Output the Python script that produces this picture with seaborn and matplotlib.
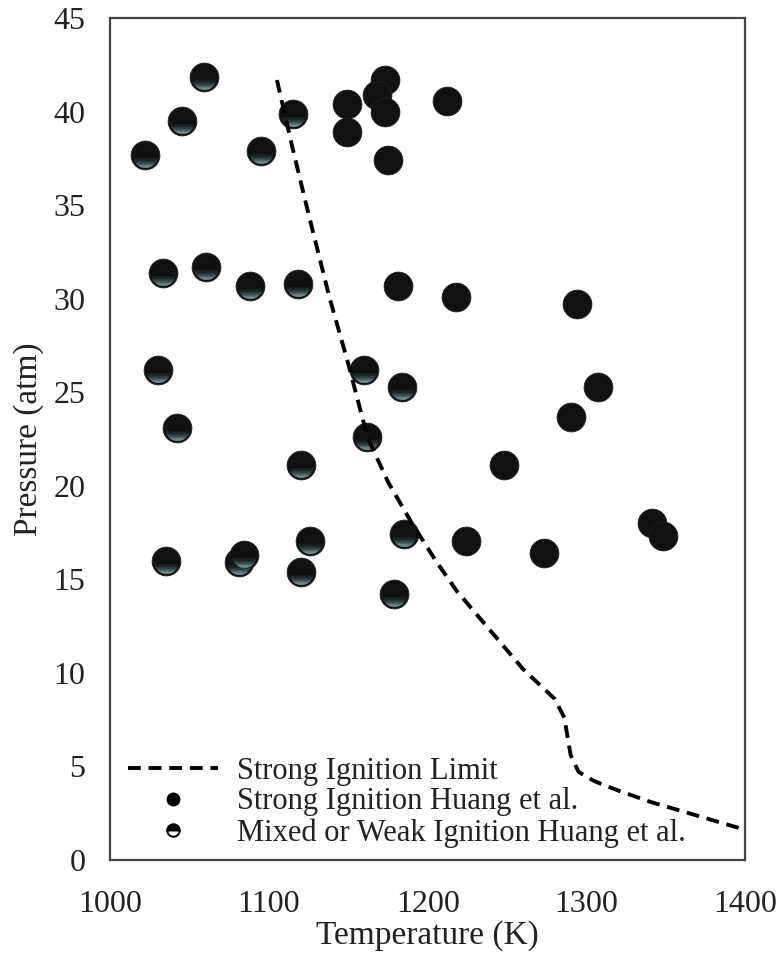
import numpy as np
import pandas as pd
import matplotlib
matplotlib.use("Agg")
import matplotlib.pyplot as plt
from matplotlib.path import Path
from matplotlib.markers import MarkerStyle
from matplotlib.lines import Line2D
import seaborn as sns

# Strong ignition limit (dashed curve)
limit_T = [1105, 1115, 1125, 1138, 1150, 1162, 1175, 1190, 1205, 1218, 1240,
           1260, 1280, 1286, 1290, 1295, 1305, 1320, 1340, 1360, 1380, 1400]
limit_P = [41.7, 38.0, 34.5, 30.1, 26.5, 22.6, 20.2, 18.0, 16.0, 14.4, 12.2,
           10.2, 8.6, 7.6, 5.6, 4.7, 4.2, 3.7, 3.1, 2.6, 2.1, 1.6]

# Strong ignition, Huang et al.
strong_T = [1149, 1149, 1173, 1168, 1173, 1175, 1212, 1181, 1218, 1294,
            1307, 1290, 1248, 1224, 1273, 1341, 1348]
strong_P = [40.4, 38.9, 41.7, 40.9, 40.0, 37.4, 40.6, 30.7, 30.1, 29.7,
            25.3, 23.7, 21.1, 17.05, 16.4, 18.0, 17.3]

# Mixed or weak ignition, Huang et al.
mixed_T = [1059, 1045, 1022, 1115, 1095, 1033, 1060, 1088, 1118, 1030, 1160,
           1184, 1042, 1162, 1120, 1035, 1081, 1084, 1126, 1120, 1185, 1179]
mixed_P = [41.85, 39.5, 37.7, 39.9, 37.9, 31.4, 31.7, 30.7, 30.8, 26.2, 26.2,
           25.3, 23.1, 22.6, 21.1, 16.0, 15.9, 16.3, 17.05, 15.4, 17.4, 14.2]

limit = pd.DataFrame({"T": limit_T, "P": limit_P})
strong = pd.DataFrame({"T": strong_T, "P": strong_P})
mixed = pd.DataFrame({"T": mixed_T, "P": mixed_P})

sns.set_theme(style="white")
plt.rcParams["font.family"] = ["Liberation Serif", "DejaVu Serif"]


def lower_cap(y0, r=0.86):
    # bottom cap of a circle, used as a highlight on the "mixed" markers
    a0 = np.arcsin(y0 / r)
    ang = np.linspace(np.pi - a0, 2 * np.pi + a0, 40)
    verts = list(zip(r * np.cos(ang), r * np.sin(ang)))
    codes = [Path.MOVETO] + [Path.LINETO] * (len(verts) - 1)
    verts += [verts[0], (0, 1), (0, 1)]
    codes += [Path.CLOSEPOLY, Path.MOVETO, Path.LINETO]
    return MarkerStyle(Path(verts, codes))


fig, ax = plt.subplots(figsize=(7.82, 9.66), dpi=100)
fig.subplots_adjust(left=0.141, right=0.953, top=0.981, bottom=0.11)

msize = 430
sns.scatterplot(data=strong, x="T", y="P", ax=ax, s=msize, color="#111114",
                edgecolor="#222", linewidth=0.6, zorder=3)
sns.scatterplot(data=mixed, x="T", y="P", ax=ax, s=msize, color="#111114",
                edgecolor="#222", linewidth=0.6, zorder=3)
for y0, c in [(-0.2, "#1c2424"), (-0.4, "#2f4141"), (-0.55, "#4a6362"),
              (-0.68, "#6a8886")]:
    sns.scatterplot(data=mixed, x="T", y="P", ax=ax, s=msize, color=c,
                    marker=lower_cap(y0), linewidth=0, zorder=3)

sns.lineplot(data=limit, x="T", y="P", ax=ax, color="black", lw=2.8,
             linestyle=(0, (3.3, 2.0)), sort=False, zorder=4)

ax.set_xlim(1000, 1400)
ax.set_ylim(0, 45)
ax.set_xticks([1000, 1100, 1200, 1300, 1400])
ax.set_yticks(np.arange(0, 46, 5))
ax.tick_params(length=0, labelsize=23, colors="#222")
ax.tick_params(axis="y", pad=18)
ax.tick_params(axis="x", pad=22)
ax.set_xlabel("Temperature (K)", fontsize=24, color="#222", labelpad=1)
ax.set_ylabel("Pressure (atm)", fontsize=24, color="#222", labelpad=7)
for sp in ax.spines.values():
    sp.set_visible(True)
    sp.set_color("#444")
    sp.set_linewidth(1.6)

handles = [
    Line2D([], [], color="black", lw=2.8, linestyle=(0, (3.3, 2.0))),
    Line2D([], [], marker="o", ls="none", color="black", markersize=9),
    Line2D([], [], marker="o", ls="none", markersize=9, fillstyle="top",
           markerfacecolor="black", markerfacecoloralt="white",
           markeredgecolor="black", markeredgewidth=1.4),
]
labels = ["Strong Ignition Limit", "Strong Ignition Huang et al.",
          "Mixed or Weak Ignition Huang et al."]
ax.legend(handles, labels, loc="lower left", bbox_to_anchor=(0.008, 0.0),
          frameon=False, fontsize=22, handlelength=2.95, handletextpad=0.62,
          labelspacing=0.05, borderaxespad=0.1, borderpad=0.3,
          labelcolor="#222")

fig.savefig("out.png", dpi=100)
